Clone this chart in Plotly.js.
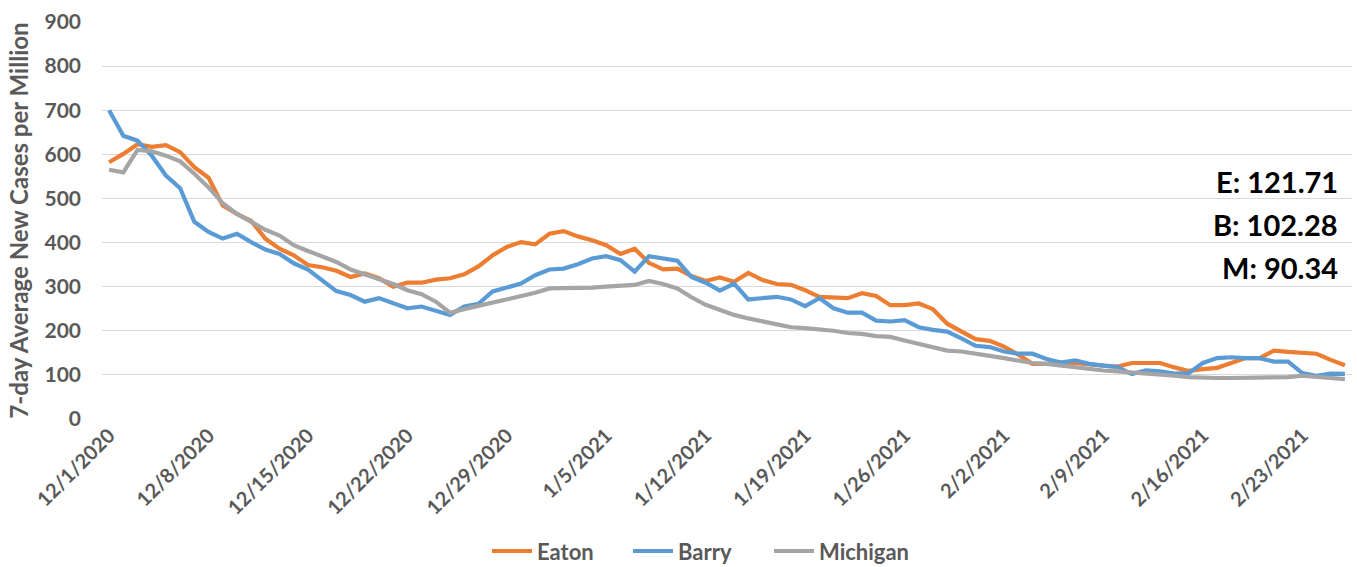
<!DOCTYPE html>
<html>
<head>
<meta charset="utf-8">
<script src="https://cdn.plot.ly/plotly-3.0.1.min.js"></script>
<style>html,body{margin:0;padding:0;background:#fff;}#chart{width:1357px;height:567px;}</style>
</head>
<body>
<div id="chart"></div>
<script>
const dates = [
'2020-12-01','2020-12-02','2020-12-03','2020-12-04','2020-12-05','2020-12-06','2020-12-07',
'2020-12-08','2020-12-09','2020-12-10','2020-12-11','2020-12-12','2020-12-13','2020-12-14',
'2020-12-15','2020-12-16','2020-12-17','2020-12-18','2020-12-19','2020-12-20','2020-12-21',
'2020-12-22','2020-12-23','2020-12-24','2020-12-25','2020-12-26','2020-12-27','2020-12-28',
'2020-12-29','2020-12-30','2020-12-31','2021-01-01','2021-01-02','2021-01-03','2021-01-04',
'2021-01-05','2021-01-06','2021-01-07','2021-01-08','2021-01-09','2021-01-10','2021-01-11',
'2021-01-12','2021-01-13','2021-01-14','2021-01-15','2021-01-16','2021-01-17','2021-01-18',
'2021-01-19','2021-01-20','2021-01-21','2021-01-22','2021-01-23','2021-01-24','2021-01-25',
'2021-01-26','2021-01-27','2021-01-28','2021-01-29','2021-01-30','2021-01-31','2021-02-01',
'2021-02-02','2021-02-03','2021-02-04','2021-02-05','2021-02-06','2021-02-07','2021-02-08',
'2021-02-09','2021-02-10','2021-02-11','2021-02-12','2021-02-13','2021-02-14','2021-02-15',
'2021-02-16','2021-02-17','2021-02-18','2021-02-19','2021-02-20','2021-02-21','2021-02-22',
'2021-02-23','2021-02-24','2021-02-25','2021-02-26'
];

const eaton = [
582,601,623,617,621,605,571,547,484,465,449,409,386,371,
349,344,336,322,330,319,300,309,309,316,319,328,346,371,
390,401,396,420,426,414,405,394,374,386,354,339,341,324,
313,321,311,331,315,306,304,292,277,275,274,285,279,258,
258,262,249,216,198,181,177,164,146,125,125,128,127,123,
121,119,127,127,127,117,109,113,116,127,138,138,155,152,
149,148,134,121.71
];

const barry = [
700,642,631,597,552,523,447,424,409,420,401,384,374,353,
339,315,290,281,266,274,262,251,255,246,236,255,261,289,
298,307,326,339,341,351,364,369,360,334,369,364,359,322,
309,291,307,271,275,277,271,256,274,251,241,241,223,221,
224,208,202,198,183,166,163,153,148,148,136,128,133,125,
121,118,102,110,108,103,104,127,138,140,138,138,130,130,
104,98,103,102.28
];

const michigan = [
565,559,610,607,597,584,556,525,489,465,447,429,416,394,
381,369,356,339,328,319,306,292,283,266,241,249,256,264,
271,278,286,296,296,296,298,300,301,304,313,306,296,276,
259,247,236,228,221,215,208,206,204,200,195,193,188,186,
178,170,164,155,153,149,143,138,132,127,125,121,119,113,
110,108,106,104,100,98,95,93,93,93,93,93,94,95,
98,95,93,90.34
];

const tickDates = ['2020-12-01','2020-12-08','2020-12-15','2020-12-22','2020-12-29','2021-01-05','2021-01-12','2021-01-19','2021-01-26','2021-02-02','2021-02-09','2021-02-16','2021-02-23'];
const tickLabels = ['12/1/2020','12/8/2020','12/15/2020','12/22/2020','12/29/2020','1/5/2021','1/12/2021','1/19/2021','1/26/2021','2/2/2021','2/9/2021','2/16/2021','2/23/2021'];
const endLabels = ['E: 121.71','B: 102.28','M: 90.34'];
const seriesNames = ['Eaton','Barry','Michigan'];

const colors = ['#ED7D31','#5B9BD5','#A5A5A5'];
const FONT = 'Lato, "Open Sans", sans-serif';
const traces = [eaton, barry, michigan].map((ys, i) => ({
  x: dates, y: ys, type: 'scatter', mode: 'lines', name: seriesNames[i],
  line: {color: colors[i], width: 4.2, shape: 'linear'}
}));

const annotations = endLabels.map((t, i) => ({
  xref: 'paper', yref: 'paper', x: 0.99, y: 0.5975 - i * 0.108,
  xanchor: 'right', yanchor: 'middle', showarrow: false,
  text: '<b>' + t + '</b>',
  font: {family: FONT, size: 29, color: '#000'}
}));

const layout = {
  width: 1357, height: 567,
  margin: {l: 102, r: 5, t: 22, b: 147.5, autoexpand: false},
  paper_bgcolor: '#fff', plot_bgcolor: '#fff',
  font: {family: FONT, color: '#595959'},
  showlegend: true,
  legend: {orientation: 'h', x: 0.308, xanchor: 'left', y: -0.333, yanchor: 'middle',
           entrywidth: 86, entrywidthmode: 'pixels',
           font: {family: FONT, size: 22, color: '#595959', weight: 'bold'}, itemwidth: 40, tracegroupgap: 0},
  xaxis: {
    type: 'date', automargin: false,
    range: ['2020-11-30 12:00', '2021-02-26 12:00'],
    tickmode: 'array', tickvals: tickDates, ticktext: tickLabels,
    tickangle: -45,
    tickfont: {family: FONT, size: 20, color: '#595959', weight: 'bold'},
    showgrid: false, zeroline: false, showline: false, ticks: '',
    fixedrange: true
  },
  yaxis: {
    range: [0, 900], dtick: 100, tick0: 0, automargin: false,
    showgrid: true, gridcolor: '#D9D9D9', gridwidth: 1,
    zeroline: false, showline: false, ticks: '',
    ticklabelstandoff: 20,
    tickfont: {family: FONT, size: 21, color: '#595959', weight: 'bold'},
    title: {text: '7-day Average New Cases per Million', standoff: 9,
            font: {family: FONT, size: 24, color: '#595959', weight: 'bold'}},
    fixedrange: true
  },
  annotations: annotations
};

Plotly.newPlot('chart', traces, layout, {displayModeBar: false, staticPlot: true});
</script>
</body>
</html>
